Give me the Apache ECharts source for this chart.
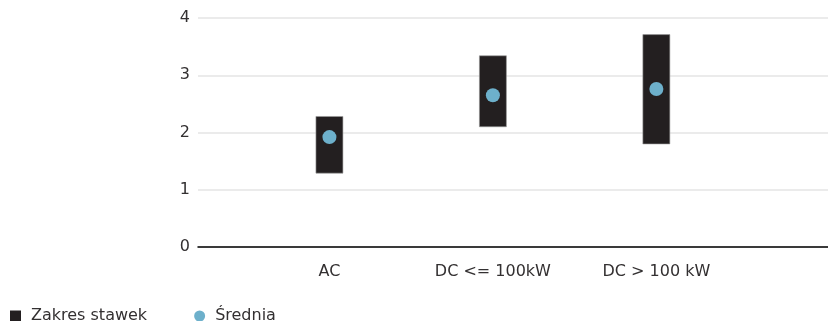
<!DOCTYPE html>
<html><head><meta charset="utf-8">
<script src="https://cdn.jsdelivr.net/npm/echarts@6/dist/echarts.min.js"></script>
<style>html,body{margin:0;padding:0;background:#fff}#c{width:828px;height:321px}</style>
</head><body><div id="c"></div>
<script>
var categories = ['AC', 'DC <= 100kW', 'DC > 100 kW'];
var rangeMin = [1.29, 2.10, 1.80];
var rangeMax = [2.28, 3.34, 3.71];
var average = [1.92, 2.65, 2.76];
var yTicks = [0, 1, 2, 3, 4];

var FONT = 'DejaVu Sans';
var TXT = '#333031';
var chart = echarts.init(document.getElementById('c'), null, {renderer: 'canvas'});
var rangeData = categories.map(function (c, i) { return [i + 1, rangeMin[i], rangeMax[i]]; });
var avgData = categories.map(function (c, i) { return [i + 1, average[i]]; });

chart.setOption({
  animation: false,
  textStyle: {fontFamily: FONT},
  grid: {left: 198, right: 0, top: 18, bottom: 74},
  legend: {
    left: 5, top: 303, itemGap: 47, itemWidth: 11, itemHeight: 11,
    textStyle: {fontFamily: FONT, fontSize: 16, color: TXT, padding: [0, 0, 0, 5]},
    data: [{name: 'Zakres stawek', icon: 'rect'}, {name: 'Średnia', icon: 'circle'}]
  },
  xAxis: {
    type: 'value', min: 0.196, max: 4.05,
    splitLine: {show: false},
    axisTick: {show: false},
    axisLine: {show: true, lineStyle: {color: '#000', width: 1.5}},
    axisLabel: {
      customValues: categories.map(function (c, i) { return i + 1; }),
      formatter: function (v) { return categories[Math.round(v) - 1] || ''; },
      fontFamily: FONT, fontSize: 16, color: TXT, margin: 17
    }
  },
  yAxis: {
    type: 'value', min: yTicks[0], max: yTicks[yTicks.length - 1], interval: 1,
    axisLine: {show: false}, axisTick: {show: false},
    splitLine: {lineStyle: {color: '#e4e4e4', width: 1.5}},
    axisLabel: {fontFamily: FONT, fontSize: 16, color: TXT, margin: 8, padding: [4, 0, 0, 0]}
  },
  series: [
    {
      name: 'Zakres stawek', type: 'custom',
      itemStyle: {color: '#231f20'},
      renderItem: function (params, api) {
        var x = api.value(0);
        var top = api.coord([x, api.value(2)]);
        var bot = api.coord([x, api.value(1)]);
        var w = 27;
        return {
          type: 'rect',
          shape: {x: top[0] - w / 2, y: top[1], width: w, height: bot[1] - top[1]},
          style: {fill: '#231f20', stroke: '#9a9a9a', lineWidth: 0.6}
        };
      },
      encode: {x: 0, y: [1, 2]},
      data: rangeData, z: 2
    },
    {
      name: 'Średnia', type: 'scatter', symbol: 'circle', symbolSize: 14,
      itemStyle: {color: '#6db0cb', opacity: 1},
      data: avgData, z: 3
    }
  ]
});
</script></body></html>
